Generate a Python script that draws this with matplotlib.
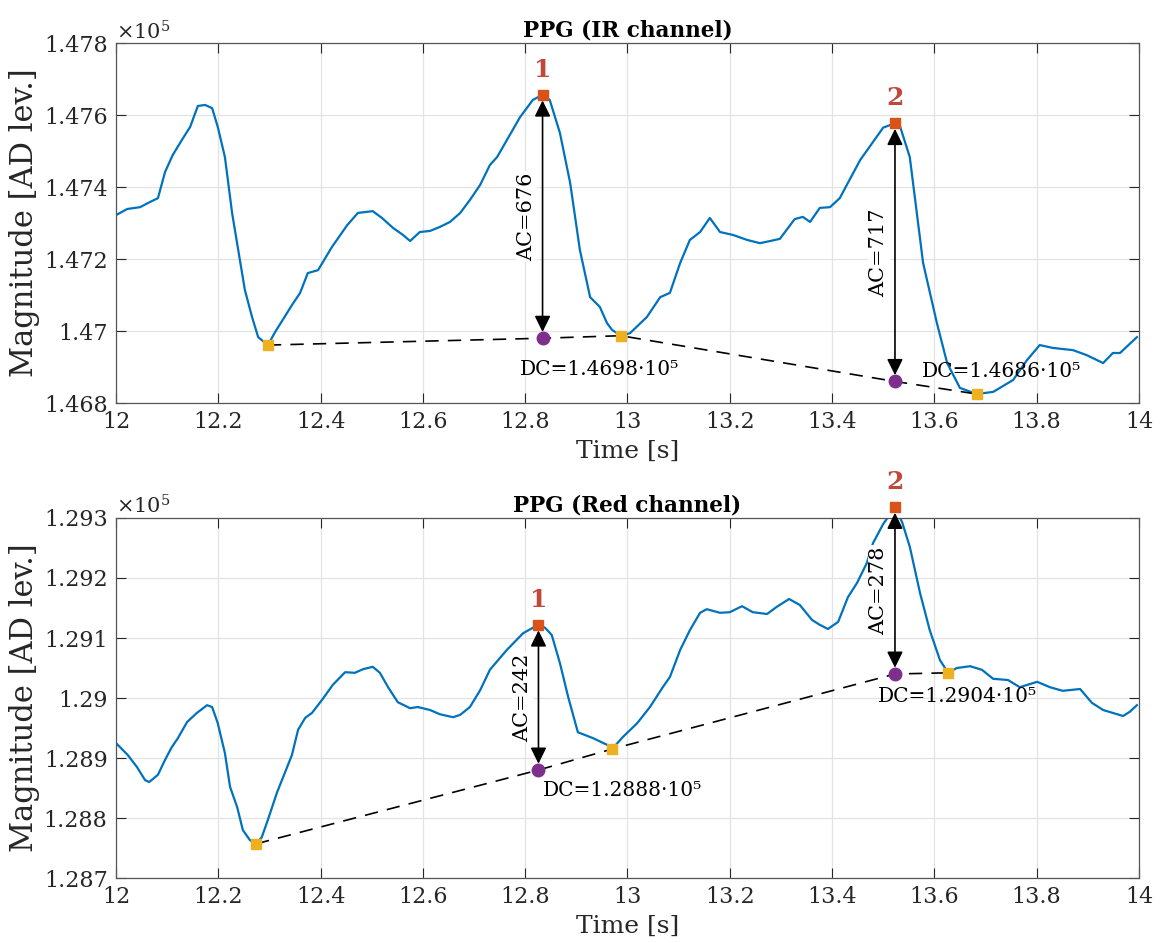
import numpy as np
import matplotlib
matplotlib.use("Agg")
import matplotlib.pyplot as plt
from matplotlib.ticker import FuncFormatter

plt.rcParams['font.family'] = ['DejaVu Serif']
plt.rcParams['mathtext.fontset'] = 'dejavuserif'

# ---------------- IR channel (AD levels) ----------------
ir_time = [12.000, 12.022, 12.047, 12.066, 12.082, 12.096, 12.111, 12.129, 12.145, 12.160,
           12.174, 12.188, 12.199, 12.213, 12.227, 12.239, 12.252, 12.266, 12.278,
           12.311, 12.326, 12.344, 12.360, 12.375, 12.395, 12.422, 12.452, 12.473, 12.502,
           12.520, 12.542, 12.561, 12.575, 12.594, 12.614, 12.633, 12.653, 12.673, 12.692,
           12.712, 12.731, 12.745, 12.790, 12.815,
           12.848, 12.868, 12.888, 12.907, 12.927, 12.946, 12.960, 12.970,
           13.005, 13.038, 13.064, 13.083, 13.103, 13.122, 13.142, 13.161, 13.181, 13.206,
           13.234, 13.259, 13.279, 13.298, 13.327, 13.343, 13.357, 13.376, 13.396, 13.415,
           13.455, 13.500,
           13.533, 13.552, 13.578, 13.605, 13.625, 13.650,
           13.715, 13.754, 13.781, 13.806, 13.832, 13.871, 13.898, 13.930, 13.949, 13.963, 13.996]
ir_level = [147322, 147339, 147344, 147358, 147369, 147442, 147489, 147531, 147567, 147625,
            147628, 147619, 147567, 147483, 147328, 147225, 147114, 147039, 146983,
            146997, 147031, 147072, 147106, 147161, 147169, 147233, 147294, 147328, 147333,
            147314, 147286, 147267, 147250, 147275, 147278, 147289, 147303, 147328, 147364,
            147406, 147461, 147483, 147594, 147642,
            147642, 147550, 147411, 147225, 147094, 147067, 147022, 147003,
            146994, 147039, 147094, 147106, 147189, 147253, 147275, 147314, 147275, 147267,
            147253, 147244, 147250, 147256, 147311, 147317, 147303, 147342, 147344, 147369,
            147475, 147565,
            147568, 147483, 147189, 147022, 146911, 146842,
            146831, 146864, 146919, 146961, 146953, 146947, 146933, 146911, 146939, 146939, 146983]
ir_peak_time = [12.834, 13.523]
ir_foot_time = [12.297, 12.987, 13.683]
ir_foot_level = [146961, 146987, 146825]
ir_dc = [146980, 146860]
ir_ac = [676, 717]

# ---------------- Red channel (AD levels) ----------------
red_time = [12.000, 12.023, 12.041, 12.057, 12.065, 12.082, 12.096, 12.109, 12.121, 12.139,
            12.158, 12.178, 12.188, 12.199, 12.213, 12.223, 12.237, 12.248, 12.262,
            12.285, 12.297, 12.315, 12.330, 12.344, 12.356, 12.370, 12.383, 12.403, 12.424,
            12.448, 12.467, 12.483, 12.502, 12.516, 12.532, 12.551, 12.575, 12.590, 12.614,
            12.633, 12.659, 12.673, 12.692, 12.712, 12.731, 12.764, 12.796, 12.815,
            12.839, 12.852, 12.868, 12.884, 12.903, 12.933, 12.960,
            12.991, 13.019, 13.044, 13.069, 13.083, 13.103, 13.122, 13.142, 13.155, 13.181,
            13.200, 13.224, 13.245, 13.273, 13.292, 13.316, 13.337, 13.361, 13.376, 13.392,
            13.412, 13.431, 13.449, 13.468, 13.480, 13.500,
            13.537, 13.552, 13.572, 13.591, 13.611,
            13.644, 13.670, 13.693, 13.715, 13.744, 13.767, 13.801, 13.826, 13.851, 13.885,
            13.908, 13.930, 13.969, 13.982, 13.996]
red_level = [128925, 128905, 128885, 128863, 128860, 128872, 128897, 128918, 128933, 128960,
             128975, 128988, 128985, 128958, 128908, 128852, 128818, 128780, 128763,
             128768, 128797, 128843, 128875, 128905, 128947, 128967, 128975, 128997, 129022,
             129043, 129042, 129048, 129052, 129042, 129018, 128993, 128983, 128985, 128980,
             128973, 128968, 128972, 128985, 129013, 129047, 129080, 129108, 129117,
             129117, 129105, 129058, 129002, 128943, 128933, 128922,
             128935, 128958, 128985, 129018, 129035, 129080, 129113, 129142, 129148, 129142,
             129143, 129153, 129143, 129140, 129152, 129165, 129155, 129130, 129122, 129115,
             129127, 129168, 129192, 129225, 129258, 129290,
             129293, 129252, 129175, 129113, 129063,
             129050, 129053, 129047, 129032, 129030, 129018, 129027, 129018, 129012, 129015,
             128992, 128980, 128970, 128977, 128988]
red_peak_time = [12.826, 13.523]
red_foot_time = [12.274, 12.970, 13.627]
red_foot_level = [128757, 128915, 129042]
red_dc = [128880, 129040]
red_ac = [242, 278]

x_ticks = [12, 12.2, 12.4, 12.6, 12.8, 13, 13.2, 13.4, 13.6, 13.8, 14]
ir_yticks = [1.468, 1.470, 1.472, 1.474, 1.476, 1.478]
red_yticks = [1.287, 1.288, 1.289, 1.290, 1.291, 1.292, 1.293]

BLUE = '#0072BD'
ORANGE = '#D95319'
YELLOW = '#EDB120'
PURPLE = '#7E2F8E'
NUMRED = '#C0473A'
AXCOL = '#262626'

SCALE = 1e5


def draw_panel(ax, title, t, v, peak_t, foot_t, foot_v, dc, ac, yticks, dc_offsets):
    dc = np.asarray(dc, float)
    ac = np.asarray(ac, float)
    peak_v = dc + ac

    # full waveform: sampled trace together with the marked peaks and feet
    tt = np.concatenate([t, peak_t, foot_t])
    vv = np.concatenate([v, peak_v, foot_v])
    order = np.argsort(tt)
    ax.plot(tt[order], vv[order] / SCALE, color=BLUE, lw=1.6, zorder=2,
            solid_joinstyle='round')

    # baseline through the feet and the DC points
    bt = np.concatenate([foot_t, peak_t])
    bv = np.concatenate([foot_v, dc])
    o2 = np.argsort(bt)
    ax.plot(bt[o2], bv[o2] / SCALE, color='black', lw=1.2, ls=(0, (8, 5.5)), zorder=3)

    for i, (pt, pv, d, a) in enumerate(zip(peak_t, peak_v, dc, ac)):
        ax.annotate('', xy=(pt, pv / SCALE), xytext=(pt, d / SCALE),
                    arrowprops=dict(arrowstyle='<|-|>,head_length=0.65,head_width=0.32',
                                    color='black', lw=1.2, mutation_scale=15,
                                    shrinkA=4.5, shrinkB=4),
                    zorder=4, annotation_clip=False)
        mid = (pv + d) / 2 / SCALE
        ax.annotate(f'AC={int(a)}', xy=(pt, mid), xytext=(-16, 0),
                    textcoords='offset pixels', rotation=90, ha='center', va='center',
                    fontsize=15, color='black', zorder=6,
                    bbox=dict(boxstyle='square,pad=0.05', fc='white', ec='none'))
        ax.annotate(str(i + 1), xy=(pt, pv / SCALE), xytext=(0, 25),
                    textcoords='offset pixels', ha='center', va='center',
                    fontsize=18, fontweight='bold', color=NUMRED, zorder=6,
                    annotation_clip=False)
        ox, oy = dc_offsets[i]
        ax.annotate(f'DC={d / SCALE:.4f}·10⁵', xy=(pt, d / SCALE), xytext=(ox, oy),
                    textcoords='offset pixels', ha='left', va='center',
                    fontsize=14.5, color='black', zorder=6)

    ax.plot(peak_t, peak_v / SCALE, ls='none', marker='s', ms=7.5, color=ORANGE,
            zorder=5, clip_on=False)
    ax.plot(foot_t, np.asarray(foot_v) / SCALE, ls='none', marker='s', ms=7.5,
            color=YELLOW, zorder=5)
    ax.plot(peak_t, dc / SCALE, ls='none', marker='o', ms=9, color=PURPLE, zorder=5)

    ax.set_xlim(12, 14)
    ax.set_ylim(yticks[0], yticks[-1])
    ax.set_xticks(x_ticks)
    ax.set_yticks(yticks)
    ax.xaxis.set_major_formatter(FuncFormatter(lambda x, p: f'{round(x, 3):g}'))
    ax.yaxis.set_major_formatter(FuncFormatter(lambda y, p: f'{round(y, 4):g}'))
    ax.grid(True, color='#e3e3e3', lw=0.9)
    ax.set_axisbelow(True)
    ax.tick_params(direction='in', length=7, width=0.8, colors=AXCOL, labelsize=16,
                   top=True, right=True, pad=6)
    for s in ax.spines.values():
        s.set_color('#555555')
        s.set_linewidth(0.9)
    ax.set_xlabel('Time [s]', fontsize=18, color=AXCOL, labelpad=5)
    ax.set_ylabel('Magnitude [AD lev.]', fontsize=22, color=AXCOL, labelpad=3)
    ax.set_title(title, fontsize=15.5, fontweight='bold', pad=5)
    ax.text(0.0, 1.0, r'$\times 10^{5}$', transform=ax.transAxes, ha='left', va='bottom',
            fontsize=15, color=AXCOL)


fig = plt.figure(figsize=(11.61, 9.43), dpi=100)
ax1 = fig.add_axes([0.0999, 0.5726, 0.8811, 0.3818])
ax2 = fig.add_axes([0.0999, 0.0689, 0.8811, 0.3818])

draw_panel(ax1, 'PPG (IR channel)', ir_time, ir_level, ir_peak_time, ir_foot_time,
           ir_foot_level, ir_dc, ir_ac, ir_yticks, [(-23, -31), (27, 10)])
draw_panel(ax2, 'PPG (Red channel)', red_time, red_level, red_peak_time, red_foot_time,
           red_foot_level, red_dc, red_ac, red_yticks, [(4, -20), (-17, -22)])

fig.savefig('out.png', dpi=100, facecolor='white')
